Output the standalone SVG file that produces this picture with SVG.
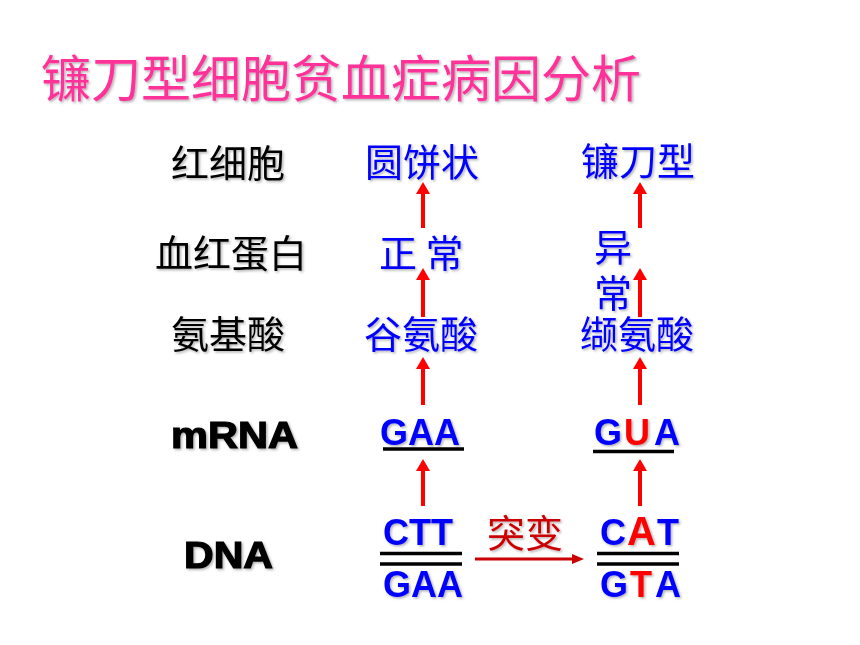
<svg xmlns="http://www.w3.org/2000/svg" width="860" height="645" viewBox="0 0 860 645">
<defs>
<filter id="sh" x="-10%" y="-10%" width="130%" height="140%">
<feDropShadow dx="1.5" dy="1.5" stdDeviation="0.8" flood-color="#000" flood-opacity="0.3"/>
</filter>
<marker id="up" viewBox="0 0 12 14" refX="0" refY="7" markerWidth="12" markerHeight="14" markerUnits="userSpaceOnUse" orient="auto">
<path d="M0,0 L12,7 L0,14 z" fill="#FF0000"/>
</marker>
<marker id="mut" viewBox="0 0 12 10" refX="0" refY="5" markerWidth="12" markerHeight="10" markerUnits="userSpaceOnUse" orient="auto">
<path d="M0,0 L12,5 L0,10 z" fill="#CC0000"/>
</marker>
</defs>
<style>
.cjk{font-family:"Noto Sans CJK SC","Noto Sans CJK JP",sans-serif;font-size:38px;filter:url(#sh)}
.title{font-size:50px;fill:#FF3399}
.lab{fill:#000}
.blue{fill:#0000FF}
.red{fill:#FF0000}
.lat{font-family:"Liberation Sans",Arial,sans-serif;font-weight:bold;font-size:36px;filter:url(#sh)}
.blk{fill:#000;stroke:#000;stroke-width:1.2}
.bar{stroke:#000;stroke-width:3.5}
.arr{stroke:#FF0000;stroke-width:4;fill:none;marker-end:url(#up)}
</style>
<rect width="860" height="645" fill="#fff"/>
<g id="title"><text class="cjk title" x="41" y="97">镰刀型细胞贫血症病因分析</text></g>
<g id="label-cell"><text class="cjk lab" x="171" y="177">红细胞</text></g>
<g id="label-hb"><text class="cjk lab" x="155" y="267">血红蛋白</text></g>
<g id="label-aa"><text class="cjk lab" x="171" y="348">氨基酸</text></g>
<g id="label-mrna"><text class="lat blk" x="171" y="448" font-size="33" textLength="127" lengthAdjust="spacingAndGlyphs">mRNA</text></g>
<g id="label-dna"><text class="lat blk" x="184" y="568" textLength="89" lengthAdjust="spacingAndGlyphs">DNA</text></g>
<g id="normal-cell"><text class="cjk blue" x="365" y="175.5">圆饼状</text></g>
<g id="normal-hb"><text class="cjk blue" x="379" y="266.5">正 常</text></g>
<g id="normal-aa"><text class="cjk blue" x="364" y="347.5">谷氨酸</text></g>
<g id="normal-mrna"><text class="lat blue" x="380" y="445">GAA</text><line class="bar" x1="383" y1="449" x2="464" y2="449"/></g>
<g id="normal-dna"><text class="lat blue" x="383" y="545">CTT</text><line class="bar" x1="380" y1="553.5" x2="462" y2="553.5"/><line class="bar" x1="380" y1="564" x2="462" y2="564"/><text class="lat blue" x="383" y="597">GAA</text></g>
<g id="sickle-cell"><text class="cjk blue" x="581" y="174.5">镰刀型</text></g>
<g id="sickle-hb"><text class="cjk blue" font-size="37"><tspan x="594" y="261">异</tspan><tspan x="594" y="306.5">常</tspan></text></g>
<g id="sickle-aa"><text class="cjk blue" x="580" y="347.5">缬氨酸</text></g>
<g id="sickle-mrna"><text class="lat blue" y="445"><tspan x="594">G</tspan><tspan x="624" class="red">U</tspan><tspan x="654">A</tspan></text><line class="bar" x1="593" y1="451.5" x2="674" y2="451.5"/></g>
<g id="sickle-dna"><text class="lat blue" y="545"><tspan x="600">C</tspan><tspan x="627" class="red" font-size="40">A</tspan><tspan x="657">T</tspan></text><line class="bar" x1="597" y1="553.5" x2="679" y2="553.5"/><line class="bar" x1="597" y1="564" x2="679" y2="564"/><text class="lat blue" y="597"><tspan x="600">G</tspan><tspan x="630" class="red">T</tspan><tspan x="655">A</tspan></text></g>
<g id="mutation-label"><text class="cjk" x="487" y="547" fill="#CC0000" font-size="37">突变</text></g>
<g id="connectors">
<line class="arr" x1="423" y1="228" x2="423" y2="194"/>
<line class="arr" x1="423" y1="317" x2="423" y2="280"/>
<line class="arr" x1="423" y1="405" x2="423" y2="369"/>
<line class="arr" x1="423" y1="506" x2="423" y2="471"/>
<line class="arr" x1="640" y1="228" x2="640" y2="194"/>
<line class="arr" x1="640" y1="317" x2="640" y2="280"/>
<line class="arr" x1="640" y1="405" x2="640" y2="369"/>
<line class="arr" x1="640" y1="506" x2="640" y2="471"/>
<line x1="475" y1="559" x2="572" y2="559" stroke="#CC0000" stroke-width="3" marker-end="url(#mut)"/>
</g>
</svg>
